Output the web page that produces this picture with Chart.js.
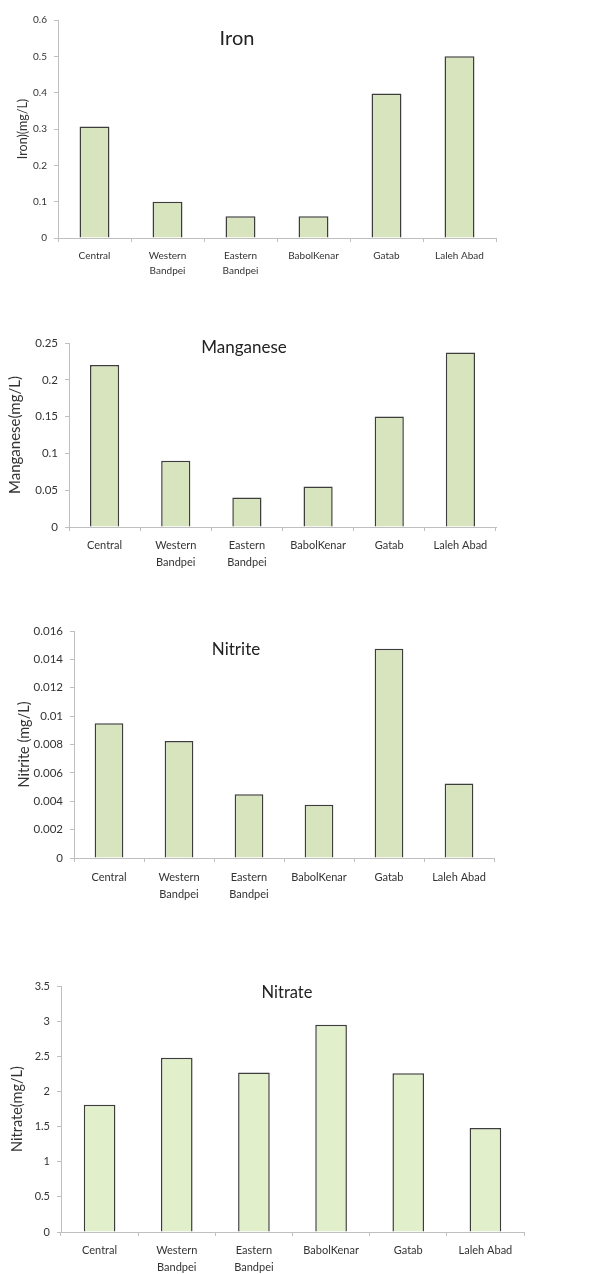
<!DOCTYPE html>
<html>
<head>
<meta charset="utf-8">
<script src="https://cdn.jsdelivr.net/npm/chart.js@4/dist/chart.umd.min.js"></script>
<style>
  html, body { margin: 0; padding: 0; background: #fff; }
  body { width: 606px; height: 1274px; position: relative; overflow: hidden; }
  .box { position: absolute; left: 0; width: 606px; }
</style>
</head>
<body>
<div class="box" style="top:0;height:290px"><canvas id="ironChart"></canvas></div>
<div class="box" style="top:300px;height:290px"><canvas id="manganeseChart"></canvas></div>
<div class="box" style="top:610px;height:300px"><canvas id="nitriteChart"></canvas></div>
<div class="box" style="top:950px;height:324px"><canvas id="nitrateChart"></canvas></div>
<script>
// Sampling stations (x categories)
const stations = ['Central', ['Western', 'Bandpei'], ['Eastern', 'Bandpei'], 'BabolKenar', 'Gatab', 'Laleh Abad'];

// Measured values, mg/L
const ironValues = [0.307, 0.1, 0.06, 0.06, 0.398, 0.5];
const manganeseValues = [0.22, 0.09, 0.04, 0.055, 0.15, 0.237];
const nitriteValues = [0.0095, 0.00825, 0.0045, 0.00375, 0.01475, 0.00525];
const nitrateValues = [1.81, 2.48, 2.27, 2.95, 2.26, 1.48];

// Y tick labels
const ironTicks = ['0', '0.1', '0.2', '0.3', '0.4', '0.5', '0.6'];
const manganeseTicks = ['0', '0.05', '0.1', '0.15', '0.2', '0.25'];
const nitriteTicks = ['0', '0.002', '0.004', '0.006', '0.008', '0.01', '0.012', '0.014', '0.016'];
const nitrateTicks = ['0', '0.5', '1', '1.5', '2', '2.5', '3', '3.5'];

const FONT = "Lato, 'Liberation Sans', sans-serif";
const TEXT = '#333333';
const AXIS = '#bfbfbf';

// Draws the chart heading inside the plot, like the Excel originals
const innerTitle = {
  id: 'innerTitle',
  afterDraw(chart, args, opts) {
    if (!opts.text) return;
    const ctx = chart.ctx;
    ctx.save();
    ctx.font = opts.size + 'px ' + FONT;
    ctx.fillStyle = '#222';
    ctx.textAlign = 'center';
    ctx.textBaseline = 'middle';
    ctx.fillText(opts.text, opts.x, opts.y);
    ctx.restore();
  }
};
Chart.register(innerTitle);

function makeChart(id, o) {
  return new Chart(document.getElementById(id), {
    type: 'bar',
    data: {
      labels: stations,
      datasets: [{
        data: o.values,
        backgroundColor: o.color,
        borderColor: '#3d3d3d',
        borderWidth: 1.5,
        barPercentage: 0.41,
        categoryPercentage: 1
      }]
    },
    options: {
      responsive: true,
      maintainAspectRatio: false,
      animation: false,
      layout: { padding: { top: o.top, right: o.right, left: 0, bottom: 0 } },
      plugins: {
        legend: { display: false },
        tooltip: { enabled: false },
        innerTitle: { text: o.title, x: o.titleX, y: o.titleY, size: o.titleSize }
      },
      scales: {
        x: {
          afterFit: s => { s.height = o.xHeight; },
          grid: { drawOnChartArea: false, drawTicks: true, tickLength: 4, color: AXIS, offset: true },
          border: { display: true, color: AXIS, width: 1 },
          ticks: {
            autoSkip: false, maxRotation: 0, minRotation: 0,
            padding: o.xPad, color: TEXT,
            font: { family: FONT, size: o.catSize, lineHeight: 1.55 }
          }
        },
        y: {
          min: 0, max: o.max,
          afterFit: s => { s.width = o.yWidth; },
          grid: { drawOnChartArea: false, drawTicks: true, tickLength: 4, color: AXIS },
          border: { display: true, color: AXIS, width: 1 },
          ticks: {
            stepSize: o.step, padding: 7, color: TEXT,
            font: { family: FONT, size: o.tickSize },
            callback: (v, i) => o.ticks[i] !== undefined ? o.ticks[i] : v
          },
          title: {
            display: true, text: o.yTitle, color: TEXT,
            font: { family: FONT, size: o.yTitleSize },
            padding: { top: o.yTitlePad, bottom: 0 }
          }
        }
      }
    }
  });
}

makeChart('ironChart', {
  values: ironValues, ticks: ironTicks, max: 0.6, step: 0.1,
  color: '#d7e4bd', title: 'Iron', titleX: 237, titleY: 39, titleSize: 20,
  yTitle: 'Iron)(mg/L)', yTitleSize: 12.5, yTitlePad: 15.5,
  top: 20, right: 110, yWidth: 58, xHeight: 52, xPad: 6,
  tickSize: 10, catSize: 10
});

makeChart('manganeseChart', {
  values: manganeseValues, ticks: manganeseTicks, max: 0.25, step: 0.05,
  color: '#d7e4bd', title: 'Manganese', titleX: 244, titleY: 48, titleSize: 17,
  yTitle: 'Manganese(mg/L)', yTitleSize: 15, yTitlePad: 6.5,
  top: 43, right: 110, yWidth: 69, xHeight: 63, xPad: 6,
  tickSize: 11.5, catSize: 11
});

makeChart('nitriteChart', {
  values: nitriteValues, ticks: nitriteTicks, max: 0.016, step: 0.002,
  color: '#d7e4bd', title: 'Nitrite', titleX: 236, titleY: 40, titleSize: 17,
  yTitle: 'Nitrite (mg/L)', yTitleSize: 14.5, yTitlePad: 15.3,
  top: 21, right: 112, yWidth: 74, xHeight: 52, xPad: 7,
  tickSize: 11.5, catSize: 11
});

makeChart('nitrateChart', {
  values: nitrateValues, ticks: nitrateTicks, max: 3.5, step: 0.5,
  color: '#e2efcb', title: 'Nitrate', titleX: 287, titleY: 43, titleSize: 16.5,
  yTitle: 'Nitrate(mg/L)', yTitleSize: 14.5, yTitlePad: 8.3,
  top: 36, right: 82, yWidth: 61, xHeight: 42, xPad: 6,
  tickSize: 11, catSize: 11
});
</script>
</body>
</html>
